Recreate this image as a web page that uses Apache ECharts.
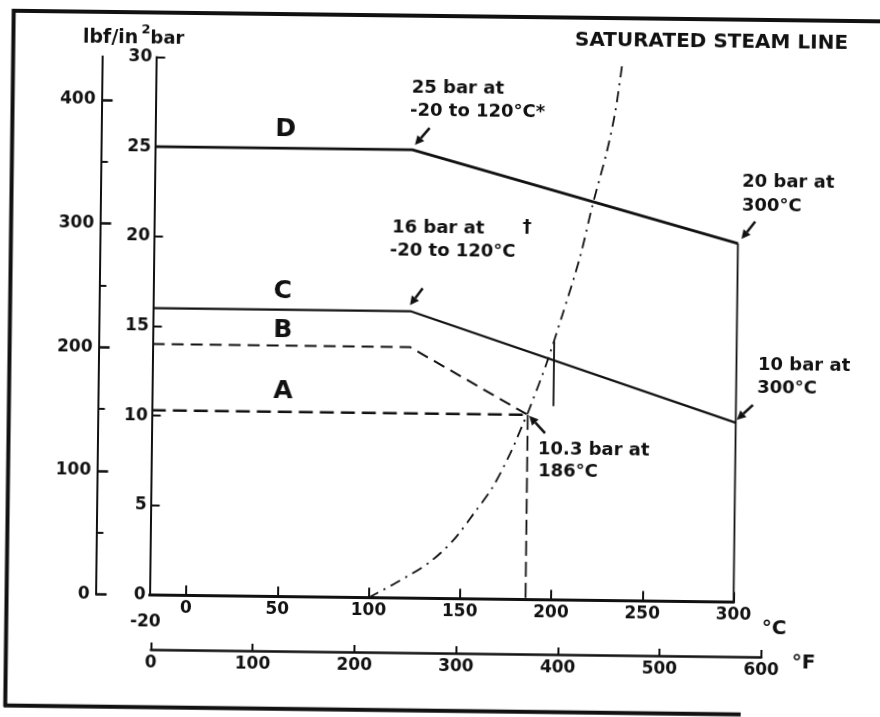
<!DOCTYPE html>
<html>
<head>
<meta charset="utf-8">
<title>Pressure / temperature ratings</title>
<script src="https://cdn.jsdelivr.net/npm/echarts@6/dist/echarts.min.js"></script>
<style>
  html, body { margin: 0; padding: 0; background: #fff; overflow: hidden; }
  /* the scanned original sits slightly skewed on the page */
  #chart { width: 880px; height: 717px; transform: rotate(0.7deg); }
</style>
</head>
<body>
<div id="chart"></div>
<script>
  // temperature in degC, pressure in bar (gauge)
  const lineD = [[-20, 25], [121, 25], [300, 20]]
  const lineC = [[-20, 16], [121, 16], [300, 10]]
  const lineB = [[-20, 14], [121, 14], [186, 10.3]]
  const lineA = [[-20, 10.3], [186, 10.3]]
  const dropA = [[186, 10.3], [186, 0]]
  const edge300 = [[300, 20], [300, 0]]
  const mark200 = [[200, 10.8], [200, 14.4]]
  const steamLine = [
    [100, 0], [115, 0.85], [133, 2.0], [146, 3.25], [157, 4.75], [167, 6.2],
    [176.5, 8.1], [183.5, 9.8], [186, 10.4], [196, 13.2], [204, 15.8],
    [213.5, 19.1], [220, 22.0], [227.5, 25.0], [232, 27.3], [235.5, 30]
  ]

  const celsiusLabels = [-20, 0, 50, 100, 150, 200, 250, 300]
  const celsiusTicks = [0, 50, 100, 150, 200, 250, 300]
  const psiLabels = [0, 100, 200, 300, 400]
  const psiMinor = [50, 150, 250, 350]
  const PSI_PER_BAR = 14.5038

  // points the little arrows point at
  const arrowPoints = [[121, 25], [121, 16], [300, 20], [300, 10], [186, 10.3]]

  const INK = '#111'
  const FONT = '"DejaVu Sans", "Liberation Sans", Arial, sans-serif'

  const chart = echarts.init(document.getElementById('chart'))

  const tickLabel = {
    color: INK,
    fontSize: 17,
    fontWeight: 'bold',
    fontFamily: FONT
  }

  function plain(data, width, type) {
    return {
      type: 'line',
      xAxisIndex: 0,
      yAxisIndex: 0,
      data: data,
      symbol: 'none',
      silent: true,
      lineStyle: { color: INK, width: width, type: type || 'solid', cap: 'butt' }
    }
  }

  chart.setOption({
    animation: false,
    backgroundColor: '#fff',
    grid: [
      { left: 152.5, top: 60.5, width: 584, height: 538, outerBoundsMode: 'none', containLabel: false },
      { left: 154.5, top: 623, width: 610.4, height: 30, outerBoundsMode: 'none', containLabel: false }
    ],
    xAxis: [
      {
        type: 'value',
        gridIndex: 0,
        min: -20,
        max: 300,
        splitLine: { show: false },
        axisLine: { onZero: false, lineStyle: { color: INK, width: 3 } },
        axisTick: { inside: true, length: 10, customValues: celsiusTicks, lineStyle: { color: INK, width: 2 } },
        axisLabel: Object.assign({}, tickLabel, {
          margin: 5,
          customValues: celsiusLabels,
          formatter: function (v) { return v === -20 ? '{low|-20}' : String(v) },
          rich: { low: Object.assign({}, tickLabel, { padding: [14, 8, 0, 0] }) }
        })
      },
      {
        type: 'value',
        gridIndex: 1,
        min: 0,
        max: 600,
        interval: 100,
        splitLine: { show: false },
        axisLine: { onZero: false, lineStyle: { color: INK, width: 2.5 } },
        axisTick: { inside: true, length: 7, lineStyle: { color: INK, width: 2 } },
        axisLabel: Object.assign({}, tickLabel, { margin: 5 })
      }
    ],
    yAxis: [
      {
        type: 'value',
        gridIndex: 0,
        position: 'left',
        min: 0,
        max: 30,
        interval: 5,
        splitLine: { show: false },
        axisLine: { show: true, onZero: false, lineStyle: { color: INK, width: 2 } },
        axisTick: { show: true, inside: true, length: 9, lineStyle: { color: INK, width: 2 } },
        axisLabel: Object.assign({}, tickLabel, { margin: 4 })
      },
      {
        type: 'value',
        gridIndex: 0,
        position: 'left',
        offset: 54,
        min: 0,
        max: 30 * PSI_PER_BAR,
        splitLine: { show: false },
        axisLine: { show: true, onZero: false, lineStyle: { color: INK, width: 2 } },
        axisTick: { show: true, inside: true, length: 11, customValues: psiLabels, lineStyle: { color: INK, width: 2.5 } },
        axisLabel: Object.assign({}, tickLabel, { margin: 6, customValues: psiLabels })
      },
      {
        // minor lbf/in2 ticks
        type: 'value',
        gridIndex: 0,
        position: 'left',
        offset: 54,
        min: 0,
        max: 30 * PSI_PER_BAR,
        splitLine: { show: false },
        axisLine: { show: false, onZero: false },
        axisTick: { show: true, inside: true, length: 7, customValues: psiMinor, lineStyle: { color: INK, width: 2 } },
        axisLabel: { show: false }
      },
      { type: 'value', gridIndex: 1, show: false, min: 0, max: 1 }
    ],
    series: [
      plain(lineD, 2.8),
      plain(edge300, 1.8),
      plain(lineC, 2.2),
      plain(lineB, 2, [12, 7]),
      plain(lineA, 2.6, [14, 7]),
      plain(dropA, 1.8, [15, 6]),
      plain(mark200, 1.8),
      Object.assign(plain(steamLine, 1.8, [11, 6, 2, 6]), { smooth: 0.3 })
    ]
  })

  function txt(text, x, y, size, align, weight) {
    return {
      type: 'text',
      x: x,
      y: y,
      z: 100,
      silent: true,
      style: {
        text: text,
        fontSize: size,
        fontWeight: weight || 'bold',
        fontFamily: FONT,
        fill: INK,
        align: align || 'left',
        verticalAlign: 'middle'
      }
    }
  }

  function arrow(tip, tail) {
    const dx = tip[0] - tail[0]
    const dy = tip[1] - tail[1]
    const len = Math.hypot(dx, dy)
    const ux = dx / len
    const uy = dy / len
    const hl = 9
    const hw = 4.5
    const bx = tip[0] - ux * hl
    const by = tip[1] - uy * hl
    return [
      {
        type: 'line', z: 100, silent: true,
        shape: { x1: tail[0], y1: tail[1], x2: bx, y2: by },
        style: { stroke: INK, lineWidth: 2.5 }
      },
      {
        type: 'polygon', z: 100, silent: true,
        shape: { points: [[tip[0], tip[1]], [bx - uy * hw, by + ux * hw], [bx + uy * hw, by - ux * hw]] },
        style: { fill: INK }
      }
    ]
  }

  // tip / tail offsets (px) from each pointed-at value
  const arrowOffsets = [
    [[2.5, -5], [17, -22]],
    [[-0.5, -6], [12, -23]],
    [[3.5, -4.5], [17, -22]],
    [[1, -3], [17, -18]],
    [[1.5, 1], [17.5, 18]]
  ]

  const graphics = [
    // frame
    { type: 'line', silent: true, shape: { x1: 8, y1: 16, x2: 890, y2: 16 }, style: { stroke: INK, lineWidth: 4 } },
    { type: 'line', silent: true, shape: { x1: 9.5, y1: 14, x2: 9.5, y2: 712 }, style: { stroke: INK, lineWidth: 4 } },
    { type: 'line', silent: true, shape: { x1: 8, y1: 710.7, x2: 745, y2: 710.7 }, style: { stroke: INK, lineWidth: 4 } },

    // axis titles and units
    txt('lbf/in', 79, 42.5, 19),
    txt('2', 137.5, 33.5, 13),
    txt('bar', 146.5, 42.5, 18),
    txt('°C', 765, 625, 20),
    txt('°F', 795.5, 658.5, 20),

    txt('SATURATED STEAM LINE', 571, 38.7, 20),

    txt('D', 283, 131, 25, 'center'),
    txt('C', 282, 293, 25, 'center'),
    txt('B', 282.5, 332, 25, 'center'),
    txt('A', 283.5, 393, 25, 'center'),

    txt('25 bar at', 408.5, 88, 18),
    txt('-20 to 120°C*', 407, 111.5, 18),
    txt('16 bar at', 390.5, 228.5, 18),
    txt('-20 to 120°C', 388.5, 251, 18),
    txt('†', 521, 226, 18),
    txt('20 bar at', 740, 178, 18),
    txt('300°C', 740, 202, 18),
    txt('10 bar at', 758, 361.5, 18),
    txt('300°C', 757.5, 384, 18),
    txt('10.3 bar at', 539, 448.5, 18),
    txt('186°C', 539.5, 470.5, 18)
  ]

  arrowPoints.forEach(function (p, i) {
    const px = chart.convertToPixel({ xAxisIndex: 0, yAxisIndex: 0 }, p)
    const off = arrowOffsets[i]
    arrow([px[0] + off[0][0], px[1] + off[0][1]], [px[0] + off[1][0], px[1] + off[1][1]])
      .forEach(function (g) { graphics.push(g) })
  })

  chart.setOption({ graphic: graphics })
</script>
</body>
</html>
